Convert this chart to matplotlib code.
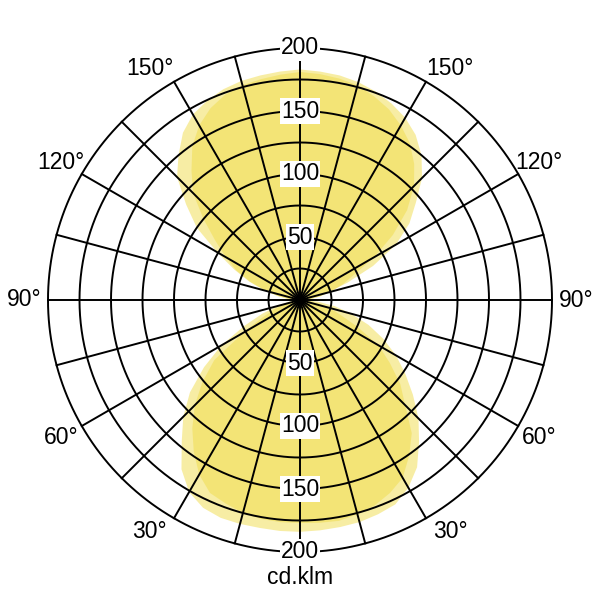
import numpy as np
import matplotlib
matplotlib.use("Agg")
import matplotlib.pyplot as plt

plt.rcParams['font.family'] = ['Liberation Sans', 'DejaVu Sans']

# ==== DATA ====
# gamma angle (0 = straight down, 180 = straight up), 5 degree steps
GAMMA = list(range(0, 185, 5))

# wide curve (pale fringe) - right half and left half, cd/klm
WIDE_RIGHT = [184, 183.5, 183, 182.5, 181, 179, 172, 162, 147, 133, 117, 102, 88, 73, 58, 42, 28, 14,
              0,
              8, 15, 22, 40, 64, 88, 106, 120, 137, 150, 160, 167, 172, 176, 179, 181, 182, 183]
WIDE_LEFT = [184, 184, 183.7, 184, 184, 182, 176, 164, 146, 131, 114, 93, 72, 49, 32, 18, 10, 4,
             0,
             10, 18, 29, 43, 58, 76, 100, 118, 138, 150, 162, 170, 174.5, 178, 180, 181, 182, 183]

# narrow curve - right half and left half, cd/klm
NARROW_RIGHT = [177, 177.5, 178, 176, 173.5, 169, 163, 151, 138, 118, 104, 87, 72, 50, 34, 24, 15, 7,
                0,
                8, 16, 26, 36, 47, 68, 90, 111, 128, 141, 152, 160, 167, 172, 176.5, 178.5, 180, 181]
NARROW_LEFT = [177, 177, 176.5, 175, 172, 169, 160, 147, 133, 118, 101, 83, 52, 33, 22, 13, 7, 3,
               0,
               8, 17, 28, 42, 56, 68, 82, 100, 120, 134, 149, 160, 168, 173.5, 176.5, 178, 179.5, 181]

RINGS = [25, 50, 75, 100, 125, 150, 175, 200]
RING_LABELS = [50, 100, 150, 200]
SPOKES = list(range(0, 360, 15))
DEG_LABELS = [30, 60, 90, 120, 150]
UNIT = "cd.klm"

FILL_COLOR = "#F0DC4A"
R_MAX = 200
LABEL_R = 219
FS = 16.5


def full_curve(right, left):
    # right side: theta = gamma, left side: theta = 360 - gamma
    theta = GAMMA + [360 - g for g in reversed(GAMMA)]
    r = right + list(reversed(left))
    return np.radians(theta), np.array(r)


fig = plt.figure(figsize=(6, 6), dpi=100)
ax = fig.add_axes([0.08, 0.08, 0.84, 0.84], projection='polar')
ax.set_theta_zero_location('S')
ax.set_theta_direction(1)
ax.set_ylim(0, R_MAX)
ax.grid(False)
ax.spines['polar'].set_visible(False)
ax.set_xticks([])
ax.set_yticks([])

# ==== LIGHT DISTRIBUTION ====
for right, left in [(WIDE_RIGHT, WIDE_LEFT), (NARROW_RIGHT, NARROW_LEFT)]:
    th, rr = full_curve(right, left)
    ax.fill(th, rr, color=FILL_COLOR, alpha=0.5, lw=0, zorder=1)

# ==== GRID ====
circ = np.linspace(0, 2 * np.pi, 721)
for r in RINGS:
    ax.plot(circ, np.full_like(circ, r), color='black', lw=1.4, zorder=2, clip_on=False)
for s in SPOKES:
    ax.plot([np.radians(s)] * 2, [0, R_MAX], color='black', lw=1.4, zorder=2, clip_on=False)

# ==== LABELS ====
box = dict(facecolor='white', edgecolor='none', pad=0.8)
for v in RING_LABELS:
    for t in (0, 180):
        ax.text(np.radians(t), v, str(v), ha='center', va='center',
                fontsize=FS, bbox=box, zorder=3)

for d in DEG_LABELS:
    # labels near the vertical are pushed a bit outwards
    nudge = 3 if d in (30, 150) else 0
    g = d + nudge if d < 90 else d - nudge
    for t in (g, 360 - g):
        ax.text(np.radians(t), LABEL_R, f"{d}°", ha='center', va='center', fontsize=FS, zorder=3)

fig.text(0.5, 1 - 578 / 600, UNIT, ha='center', va='center', fontsize=FS)

fig.savefig("out.png", dpi=100, facecolor='white')
